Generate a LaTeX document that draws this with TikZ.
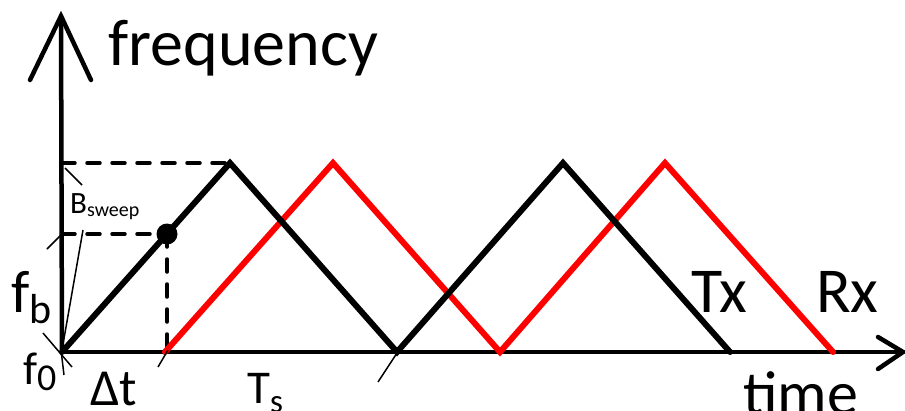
\documentclass[tikz,border=0pt]{standalone}
\usepackage{fontspec}
\setmainfont{Carlito}
\newcommand\fsz[1]{\fontsize{#1}{#1}\selectfont}
\begin{document}
\begin{tikzpicture}[x=1pt,y=-1pt,
  axisline/.style={line width=4.5pt,line cap=round,line join=miter},
  txline/.style={line width=6pt,line cap=round,line join=miter,black},
  rxline/.style={line width=6pt,line cap=round,line join=miter,red},
  dashline/.style={line width=3.5pt,line cap=round,dash pattern=on 13pt off 12pt},
  thinline/.style={line width=1.5pt},
  lab/.style={inner sep=0pt,anchor=base west,text=black}]
\useasboundingbox (0,0) rectangle (905,410);
\clip (0,0) rectangle (905,410);
% coordinates
\coordinate (O) at (62,352);
\coordinate (ytip) at (61,16);
\coordinate (yl) at (30,80);
\coordinate (yr) at (91,80);
\coordinate (xtip) at (903,352);
\coordinate (xu) at (878,337);
\coordinate (xd) at (878,369);
\coordinate (tp1) at (230,163);
\coordinate (tv1) at (397,352);
\coordinate (tp2) at (563,163);
\coordinate (tend) at (730,352);
\coordinate (rs) at (165,352);
\coordinate (rp1) at (333,163);
\coordinate (rv1) at (500,352);
\coordinate (rp2) at (665,163);
\coordinate (rend) at (833,352);
\coordinate (ytop) at (62,163);
\coordinate (yfb) at (62,234);
\coordinate (dot) at (167,234);
\coordinate (dotb) at (167,352);
% axes
\draw[axisline] (O) -- (ytip);
\draw[axisline] (yl) -- (ytip) -- (yr);
\draw[axisline] (O) -- (xtip);
\draw[axisline] (xu) -- (xtip) -- (xd);
% dashed guides
\draw[dashline] (ytop) -- (tp1);
\draw[dashline] (yfb) -- (dot);
\draw[dashline] (dot) -- (dotb);
% signals
\draw[rxline] (rs) -- (rp1) -- (rv1) -- (rp2) -- (rend);
\draw[txline] (O) -- (tp1) -- (tv1) -- (tp2) -- (tend);
\fill (dot) circle (10.5);
% thin annotation lines
\draw[thinline] (65,168) -- (82,185);
\draw[thinline] (83,230) -- (62,350);
\draw[thinline] (47,249) -- (61,235);
\draw[thinline] (43,333) -- (72,367);
\draw[thinline] (61,350) -- (64,375);
\draw[thinline] (168,350) -- (158,367);
\draw[thinline] (397,353) -- (378,382);
% labels
\node[lab] (freq) at (108,65) {\fsz{66}frequency};
\node[lab] (time) at (743,414) {\fsz{62}time};
\node[lab] (tx) at (691,312) {\fsz{64}Tx};
\node[lab] (rx) at (816,312) {\fsz{64}Rx};
\node[lab] (fb) at (11,312) {\fsz{60}f\raisebox{-11pt}{\fsz{42}b}};
\node[lab] (f0) at (23,384) {\fsz{46}f\raisebox{-6pt}{\fsz{38}0}};
\node[lab] (dt) at (90,405) {\fsz{52}Δt};
\node[lab] (ts) at (247,403) {\fsz{47}T\raisebox{-9pt}{\fsz{33}s}};
\node[lab] (bs) at (70,213) {\fsz{31}B\raisebox{-3pt}{\fsz{20}sweep}};
\end{tikzpicture}
\end{document}
